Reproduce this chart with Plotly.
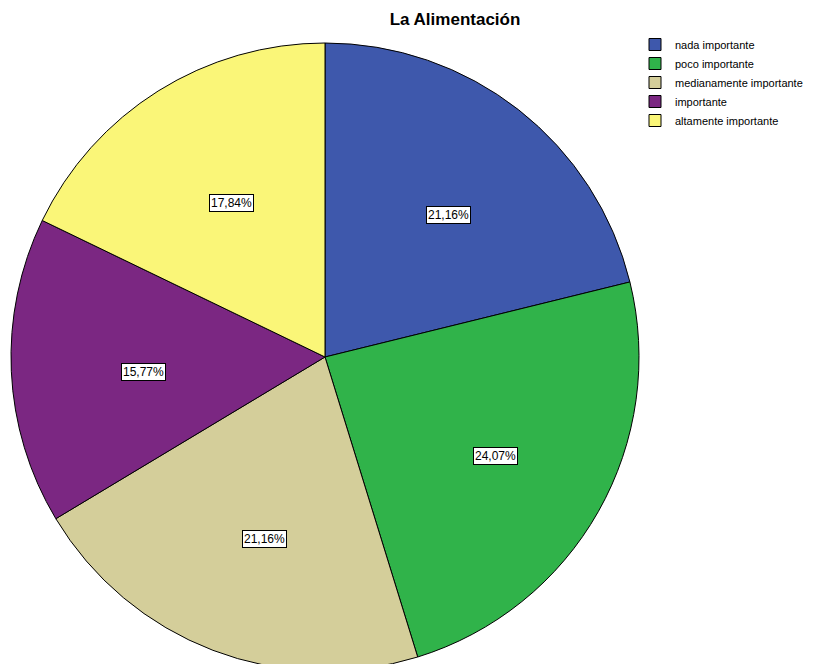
import math
import plotly.graph_objects as go

categories = ["nada importante", "poco importante", "medianamente importante", "importante", "altamente importante"]
percentages = [21.16, 24.07, 21.16, 15.77, 17.84]
colors = ["#3E58AC", "#30B34A", "#D4CE9A", "#7B2782", "#FAF678"]
title_text = "La Alimentación"

W, H = 829, 664
dom_x = [3 / W, 631 / W]
dom_y = [0.0, 630 / H]

fig = go.Figure(go.Pie(
    labels=categories,
    values=percentages,
    sort=False,
    direction="clockwise",
    rotation=0,
    marker=dict(colors=colors, line=dict(color="black", width=1)),
    textinfo="none",
    hoverinfo="label+percent",
    domain=dict(x=dom_x, y=dom_y),
))

# label positions derived from data (slice mid-angles); pie centre as rendered
cx = 324.0
cy_from_bottom = H - 355.0
radius = 314.0
total = sum(percentages)
cum = 0.0
annotations = []
for p in percentages:
    mid = (cum + p / 2) / total * 2 * math.pi
    cum += p
    r = radius * 0.6
    x = cx + r * math.sin(mid)
    y = cy_from_bottom + r * math.cos(mid)
    annotations.append(dict(
        x=x / W, y=y / H, xref="paper", yref="paper",
        xanchor="center", yanchor="middle",
        text=f"{p:.2f}%".replace(".", ","), showarrow=False,
        font=dict(family="Liberation Sans, Arial", size=12, color="black"),
        bgcolor="white", bordercolor="black", borderwidth=1, borderpad=1,
    ))

fig.update_layout(
    width=W, height=H,
    margin=dict(l=0, r=0, t=0, b=0),
    paper_bgcolor="white", plot_bgcolor="white",
    title=dict(text=f"<b>{title_text}</b>", x=447 / W, xanchor="center", y=1 - 11 / H, yanchor="middle",
               font=dict(family="Liberation Sans, Arial", size=17, color="black")),
    legend=dict(x=627 / W, y=1 - 22 / H, xanchor="left", yanchor="top",
                font=dict(family="Liberation Sans, Arial", size=11, color="black"),
                bgcolor="rgba(0,0,0,0)", itemwidth=30, tracegroupgap=0),
    annotations=annotations,
)

fig.write_html("out.html")
